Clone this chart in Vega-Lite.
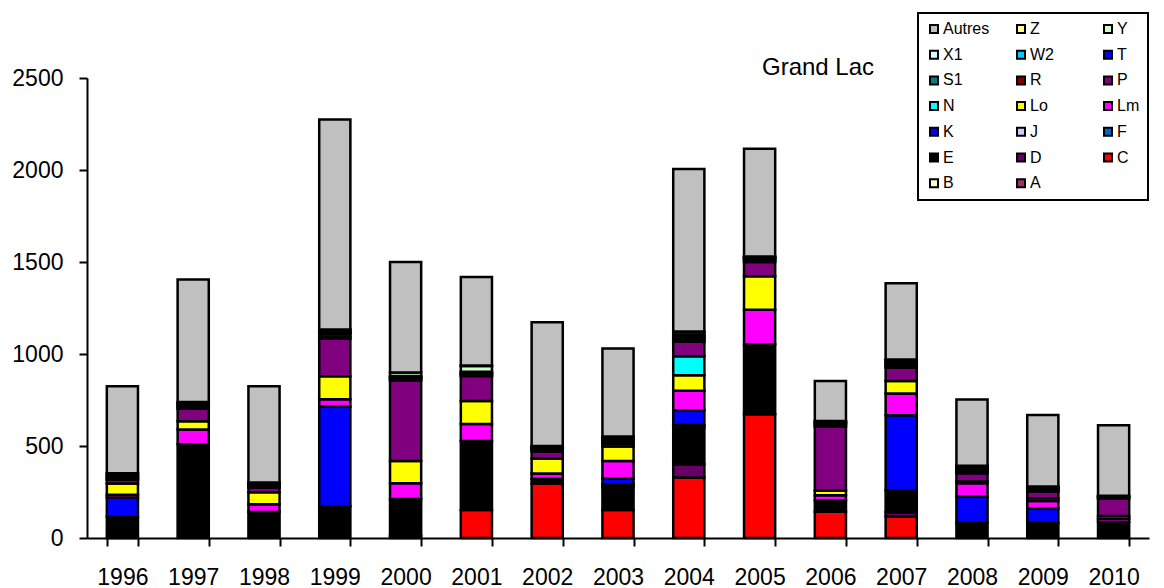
{
  "$schema": "https://vega.github.io/schema/vega-lite/v6.json",
  "autosize": {"type": "none"},
  "width": 1062,
  "height": 460,
  "padding": {"left": 87, "top": 78, "right": 15, "bottom": 50},
  "background": "white",
  "title": {"text": "Grand Lac", "anchor": "start", "frame": "group", "offset": 0, "dx": 675, "dy": 87, "fontSize": 24, "fontWeight": "normal", "font": "Liberation Sans", "color": "black", "baseline": "alphabetic"},
  "data": {"values": [
    {"year":"1996","series":"E","value":115},{"year":"1996","series":"K","value":105},{"year":"1996","series":"Lm","value":15},{"year":"1996","series":"Lo","value":61},{"year":"1996","series":"P","value":20},{"year":"1996","series":"R","value":5},{"year":"1996","series":"S1","value":10},{"year":"1996","series":"T","value":5},{"year":"1996","series":"Y","value":10},{"year":"1996","series":"Z","value":6},{"year":"1996","series":"Autres","value":473},
    {"year":"1997","series":"E","value":510},{"year":"1997","series":"Lm","value":80},{"year":"1997","series":"Lo","value":45},{"year":"1997","series":"P","value":68},{"year":"1997","series":"R","value":6},{"year":"1997","series":"S1","value":10},{"year":"1997","series":"T","value":5},{"year":"1997","series":"Y","value":10},{"year":"1997","series":"Z","value":5},{"year":"1997","series":"Autres","value":666},
    {"year":"1998","series":"E","value":141},{"year":"1998","series":"Lm","value":42},{"year":"1998","series":"Lo","value":65},{"year":"1998","series":"P","value":27},{"year":"1998","series":"R","value":5},{"year":"1998","series":"S1","value":8},{"year":"1998","series":"Y","value":8},{"year":"1998","series":"Z","value":6},{"year":"1998","series":"Autres","value":523},
    {"year":"1999","series":"E","value":172},{"year":"1999","series":"K","value":542},{"year":"1999","series":"Lm","value":40},{"year":"1999","series":"Lo","value":125},{"year":"1999","series":"P","value":204},{"year":"1999","series":"R","value":10},{"year":"1999","series":"S1","value":15},{"year":"1999","series":"T","value":5},{"year":"1999","series":"X1","value":5},{"year":"1999","series":"Y","value":10},{"year":"1999","series":"Z","value":5},{"year":"1999","series":"Autres","value":1142},
    {"year":"2000","series":"D","value":12},{"year":"2000","series":"E","value":200},{"year":"2000","series":"Lm","value":86},{"year":"2000","series":"Lo","value":120},{"year":"2000","series":"P","value":438},{"year":"2000","series":"R","value":5},{"year":"2000","series":"S1","value":8},{"year":"2000","series":"T","value":5},{"year":"2000","series":"X1","value":6},{"year":"2000","series":"Y","value":20},{"year":"2000","series":"Autres","value":600},
    {"year":"2001","series":"C","value":152},{"year":"2001","series":"E","value":375},{"year":"2001","series":"Lm","value":93},{"year":"2001","series":"Lo","value":125},{"year":"2001","series":"P","value":135},{"year":"2001","series":"R","value":5},{"year":"2001","series":"S1","value":8},{"year":"2001","series":"T","value":5},{"year":"2001","series":"X1","value":5},{"year":"2001","series":"Y","value":32},{"year":"2001","series":"Z","value":3},{"year":"2001","series":"Autres","value":481},
    {"year":"2002","series":"C","value":296},{"year":"2002","series":"E","value":24},{"year":"2002","series":"Lm","value":30},{"year":"2002","series":"Lo","value":82},{"year":"2002","series":"P","value":38},{"year":"2002","series":"R","value":5},{"year":"2002","series":"S1","value":10},{"year":"2002","series":"T","value":5},{"year":"2002","series":"Y","value":5},{"year":"2002","series":"Z","value":5},{"year":"2002","series":"Autres","value":672},
    {"year":"2003","series":"C","value":152},{"year":"2003","series":"E","value":123},{"year":"2003","series":"F","value":12},{"year":"2003","series":"J","value":5},{"year":"2003","series":"K","value":31},{"year":"2003","series":"Lm","value":96},{"year":"2003","series":"Lo","value":78},{"year":"2003","series":"P","value":15},{"year":"2003","series":"R","value":10},{"year":"2003","series":"S1","value":10},{"year":"2003","series":"T","value":8},{"year":"2003","series":"X1","value":5},{"year":"2003","series":"Y","value":6},{"year":"2003","series":"Autres","value":479},
    {"year":"2004","series":"C","value":329},{"year":"2004","series":"D","value":72},{"year":"2004","series":"E","value":199},{"year":"2004","series":"F","value":14},{"year":"2004","series":"K","value":80},{"year":"2004","series":"Lm","value":106},{"year":"2004","series":"Lo","value":84},{"year":"2004","series":"N","value":104},{"year":"2004","series":"P","value":78},{"year":"2004","series":"R","value":10},{"year":"2004","series":"S1","value":10},{"year":"2004","series":"T","value":8},{"year":"2004","series":"X1","value":8},{"year":"2004","series":"Y","value":15},{"year":"2004","series":"Z","value":5},{"year":"2004","series":"Autres","value":883},
    {"year":"2005","series":"C","value":672},{"year":"2005","series":"E","value":379},{"year":"2005","series":"Lm","value":190},{"year":"2005","series":"Lo","value":181},{"year":"2005","series":"P","value":78},{"year":"2005","series":"R","value":8},{"year":"2005","series":"S1","value":8},{"year":"2005","series":"T","value":6},{"year":"2005","series":"Y","value":5},{"year":"2005","series":"Z","value":3},{"year":"2005","series":"Autres","value":585},
    {"year":"2006","series":"C","value":143},{"year":"2006","series":"E","value":62},{"year":"2006","series":"Lm","value":28},{"year":"2006","series":"Lo","value":25},{"year":"2006","series":"P","value":347},{"year":"2006","series":"R","value":8},{"year":"2006","series":"S1","value":8},{"year":"2006","series":"T","value":5},{"year":"2006","series":"Y","value":5},{"year":"2006","series":"Z","value":5},{"year":"2006","series":"Autres","value":217},
    {"year":"2007","series":"C","value":118},{"year":"2007","series":"D","value":22},{"year":"2007","series":"E","value":120},{"year":"2007","series":"K","value":407},{"year":"2007","series":"Lm","value":118},{"year":"2007","series":"Lo","value":68},{"year":"2007","series":"P","value":72},{"year":"2007","series":"R","value":8},{"year":"2007","series":"S1","value":10},{"year":"2007","series":"T","value":7},{"year":"2007","series":"X1","value":5},{"year":"2007","series":"Y","value":12},{"year":"2007","series":"Z","value":3},{"year":"2007","series":"Autres","value":415},
    {"year":"2008","series":"E","value":81},{"year":"2008","series":"K","value":145},{"year":"2008","series":"Lm","value":71},{"year":"2008","series":"Lo","value":10},{"year":"2008","series":"P","value":45},{"year":"2008","series":"R","value":8},{"year":"2008","series":"S1","value":10},{"year":"2008","series":"T","value":5},{"year":"2008","series":"X1","value":5},{"year":"2008","series":"Y","value":12},{"year":"2008","series":"Autres","value":361},
    {"year":"2009","series":"E","value":81},{"year":"2009","series":"K","value":80},{"year":"2009","series":"Lm","value":40},{"year":"2009","series":"Lo","value":15},{"year":"2009","series":"P","value":35},{"year":"2009","series":"R","value":8},{"year":"2009","series":"S1","value":8},{"year":"2009","series":"T","value":5},{"year":"2009","series":"Y","value":8},{"year":"2009","series":"Autres","value":388},
    {"year":"2010","series":"E","value":88},{"year":"2010","series":"Lm","value":17},{"year":"2010","series":"Lo","value":15},{"year":"2010","series":"P","value":95},{"year":"2010","series":"R","value":5},{"year":"2010","series":"S1","value":5},{"year":"2010","series":"Y","value":4},{"year":"2010","series":"Autres","value":384}
  ]},
  "transform": [
    {"calculate": "indexof(['A','B','C','D','E','F','J','K','Lm','Lo','N','P','R','S1','T','W2','X1','Y','Z','Autres'], datum.series)", "as": "rank"}
  ],
  "mark": {"type": "bar", "stroke": "black", "strokeWidth": 2.5, "strokeJoin": "miter"},
  "encoding": {
    "x": {
      "field": "year", "type": "ordinal",
      "scale": {"paddingInner": 0.56, "paddingOuter": 0.28},
      "axis": {"title": null, "labelAngle": 0, "tickBand": "extent", "tickSize": 8, "tickWidth": 2, "tickColor": "black", "domainColor": "black", "domainWidth": 2, "labelFontSize": 23, "labelFont": "Liberation Sans", "labelColor": "black", "labelPadding": 20}
    },
    "y": {
      "field": "value", "type": "quantitative", "stack": "zero",
      "scale": {"domain": [0, 2500], "nice": false},
      "axis": {"title": null, "format": "d", "values": [0, 500, 1000, 1500, 2000, 2500], "grid": false, "tickSize": 8, "tickWidth": 2, "tickColor": "black", "domainColor": "black", "domainWidth": 2, "labelFontSize": 23, "labelFont": "Liberation Sans", "labelColor": "black", "labelPadding": 16}
    },
    "order": {"field": "rank", "type": "quantitative"},
    "color": {
      "field": "series", "type": "nominal",
      "scale": {
        "domain": ["Autres","Z","Y","X1","W2","T","S1","R","P","N","Lo","Lm","K","J","F","E","D","C","B","A"],
        "range": ["#C0C0C0","#FFFF99","#CCFFCC","#CCFFFF","#00CCFF","#0000FF","#008080","#800000","#800080","#00FFFF","#FFFF00","#FF00FF","#0000FF","#CCCCFF","#0066CC","#000000","#660066","#FF0000","#FFFFCC","#993366"]
      },
      "legend": {
        "title": null, "orient": "none", "legendX": 831, "legendY": -65,
        "direction": "horizontal", "columns": 3, "gridAlign": "all",
        "symbolType": "square", "symbolSize": 64, "symbolStrokeColor": "black", "symbolStrokeWidth": 2, "symbolOpacity": 1,
        "labelFontSize": 16, "labelFont": "Liberation Sans", "labelColor": "black", "labelOffset": 1,
        "rowPadding": 9.7, "columnPadding": 23, "padding": 8,
        "fillColor": "white", "strokeColor": "black"
      }
    }
  },
  "config": {
    "view": {"stroke": null},
    "legend": {"strokeWidth": 2}
  }
}
